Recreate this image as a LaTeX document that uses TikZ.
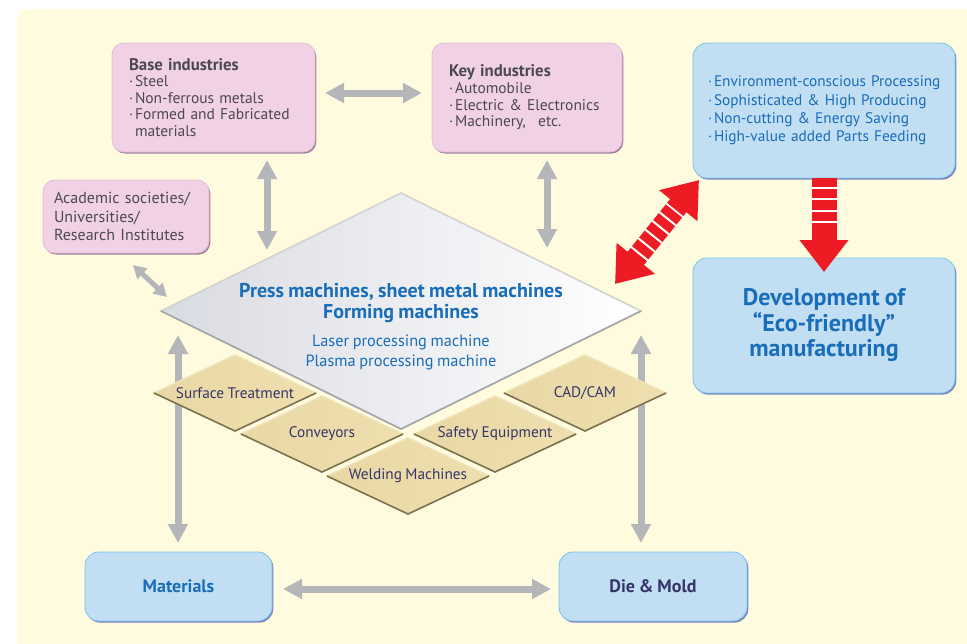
\documentclass[tikz,border=0pt]{standalone}
\usepackage{fontspec}
\setmainfont{PT Sans}[WordSpace=0.85]
\usepackage{tikz}
\usetikzlibrary{arrows.meta,shapes.geometric,shadows}
\usetikzlibrary{positioning}

\definecolor{bgyellow}{HTML}{FFFBDE}
\definecolor{pinkfill}{HTML}{F1D1E5}
\definecolor{pinkedge}{HTML}{E3BDD6}
\definecolor{pinkdark}{HTML}{A07E9E}
\definecolor{bluefill}{HTML}{C1DEF3}
\definecolor{blueedge}{HTML}{78C4EC}
\definecolor{bluedark}{HTML}{7B7FC0}
\definecolor{arrowgray}{HTML}{B5B6BA}
\definecolor{textgray}{HTML}{4C4A4E}
\definecolor{textblue}{HTML}{1A6DB8}
\definecolor{textnavy}{HTML}{36356A}
\definecolor{ecored}{HTML}{ED1C24}
\definecolor{tanleft}{HTML}{E9D8A5}
\definecolor{tanmid}{HTML}{FAEDC3}
\definecolor{tanright}{HTML}{EEDFAE}
\definecolor{tandark}{HTML}{7D704F}
\definecolor{tanlight}{HTML}{EFE3B9}
\definecolor{diagray}{HTML}{D9DBE2}

\newcommand\bul{\makebox[6pt][l]{·}}
\newcommand\boxtitle[1]{{\bfseries\fontsize{16.8}{16.6}\selectfont #1}}

\tikzset{
    pinkbox/.style={
           rectangle, rounded corners=12pt,
           draw=pinkedge, line width=0.8pt,
           fill=pinkfill,
           drop shadow={shadow xshift=1.3pt, shadow yshift=-1.6pt, fill=pinkdark, opacity=1},
           text=textgray, align=left,
           font=\fontsize{15.5}{16.6}\selectfont,
           inner ysep=0pt, outer sep=0pt,
           },
}
\tikzset{
    bluebox/.style={
           rectangle, rounded corners=14pt,
           draw=blueedge, line width=0.8pt,
           fill=bluefill,
           drop shadow={shadow xshift=1.3pt, shadow yshift=-1.6pt, fill=bluedark, opacity=1},
           inner ysep=0pt, outer sep=0pt,
           },
}
\tikzset{
    pressdia/.style={
           diamond, aspect=2.03, minimum width=480pt, minimum height=236pt,
           inner sep=0pt, outer sep=0pt,
           draw=gray!35, line width=1.6pt,
           left color=diagray, right color=white,
           },
}
\tikzset{
    tandia/.style={
           diamond, aspect=2.13, minimum width=162pt, minimum height=76pt,
           inner sep=0pt, outer sep=0pt,
           draw=tanlight, line width=1.4pt,
           left color=tanleft, middle color=tanmid, right color=tanright,
           text=textnavy, font=\fontsize{15.3}{16}\selectfont,
           },
}
\tikzset{
    garrow/.style={
           draw=arrowgray, line width=7pt,
           {Triangle[width=19pt,length=19pt]}-{Triangle[width=19pt,length=19pt]},
           },
    redarrow/.style={
           draw=ecored, line width=21pt,
           {Triangle[width=47pt,length=33pt]}-{Triangle[width=47pt,length=33pt]},
           },
    redstripe/.style={
           draw=white, line width=21.5pt, dash pattern=on 2pt off 9.2pt,
           },
}

\begin{document}
\begin{tikzpicture}[x=1pt,y=-1pt]
\useasboundingbox (0,0) rectangle (967,643);
\fill[bgyellow,rounded corners=10pt] (17,9) rectangle (1000,680);

% boxes
\node[pinkbox,minimum width=203pt,minimum height=109pt,text width=169pt,inner xsep=17pt](base) at (213.5,97.5)
  {\boxtitle{Base industries}\\ \bul Steel\\ \bul Non-ferrous metals\\ \bul Formed and Fabricated\\ \hspace*{6pt}materials};
\node[pinkbox,minimum width=190pt,minimum height=109pt,text width=156pt,inner xsep=17pt](key) at (527,97.5)
  {\boxtitle{Key industries}\\ \bul Automobile\\ \bul Electric \& Electronics\\ \bul Machinery,\hspace{0.8em}etc.};
\node[pinkbox,minimum width=166pt,minimum height=73pt,text width=144pt,inner xsep=11pt,font=\fontsize{16}{18.5}\selectfont](acad) at (126,216.5)
  {Academic societies/\\ Universities/\\ Research Institutes};
\node[bluebox,minimum width=262pt,minimum height=135pt,text width=232pt,inner xsep=15pt,align=left,text=textblue,font=\fontsize{15.3}{18.3}\selectfont](goals) at (824,110.5)
  {\mbox{\bul Environment-conscious Processing}\\ \bul Sophisticated \& High Producing\\ \bul Non-cutting \& Energy Saving\\ \bul High-value added Parts Feeding};
\node[bluebox,minimum width=262pt,minimum height=135pt,align=center,text=textblue,font=\bfseries\fontsize{24}{25.5}\selectfont](eco) at (824,325.5)
  {Development of\\ “Eco-friendly”\\ manufacturing};
\node[bluebox,minimum width=187pt,minimum height=69pt,text=textblue,font=\bfseries\fontsize{18}{20}\selectfont](mat) at (178.5,586.5) {Materials};
\node[bluebox,minimum width=188pt,minimum height=69pt,text=textnavy,font=\bfseries\fontsize{18}{20}\selectfont](die) at (653,586.5) {Die \& Mold};

% machines
\node[pressdia](press) at (401,311) {};
\draw[gray!70,line width=1.6pt] (press.west) -- (press.south) -- (press.east);
\node[text=textblue,align=center,font=\bfseries\fontsize{20}{20.5}\selectfont](presstxt) at (401,303)
  {Press machines, sheet metal machines\\ Forming machines};
\node[text=textblue,align=center,font=\fontsize{16.3}{20}\selectfont](lasertxt) at (401,352)
  {Laser processing machine\\ Plasma processing machine};

% gray links
\coordinate (bd) at (267,250);
\coordinate (kd) at (547,248);
\coordinate (ad) at (167,297);
\coordinate (lt) at (178,335);
\coordinate (rt) at (641,335);
\draw[garrow,shorten <=10pt,shorten >=10pt] ([yshift=4.5pt]base.east) -- ([yshift=4.5pt]key.west);
\draw[garrow,shorten <=8pt] (base.south -| bd) -- (bd);
\draw[garrow,shorten <=8pt] (key.south -| kd) -- (kd);
\draw[garrow,line width=5pt,{Triangle[width=14pt,length=13pt]}-{Triangle[width=14pt,length=13pt]}] (133,265) -- (ad);
\draw[garrow,shorten >=9pt] (lt) -- (lt |- mat.north);
\draw[garrow,shorten >=9pt] (rt) -- (rt |- die.north);
\draw[garrow,shorten <=11pt,shorten >=8pt] ([yshift=-2.5pt]mat.east) -- ([yshift=-2.5pt]die.west);

% peripheral equipment
\node[tandia](surf) at (235,393) {Surface Treatment};
\node[tandia](conv) at (322,434) {Conveyors};
\node[tandia](weld) at (408,476) {Welding Machines};
\node[tandia](safe) at (495,434) {Safety Equipment};
\node[tandia](cad) at (585,393) {CAD/CAM};
\foreach \d in {surf,conv,weld,safe,cad}
  \draw[tandark,line width=1.6pt] (\d.west) -- (\d.south) -- (\d.east);

% red arrows
\coordinate (rlo) at (615,284);
\coordinate (rhi) at (699,180);
\draw[redarrow] (rlo) -- (rhi);
\draw[redstripe,shorten <=38pt,shorten >=38pt] (rlo) -- (rhi);
\draw[draw=ecored,line width=25pt,-{Triangle[width=47pt,length=32pt]}] (goals.south) -- ([yshift=-14pt]eco.north);
\draw[redstripe,line width=25.5pt,dash pattern=on 2pt off 9.4pt,shorten <=9pt,shorten >=47pt] (goals.south) -- ([yshift=-14pt]eco.north);
\end{tikzpicture}
\end{document}
